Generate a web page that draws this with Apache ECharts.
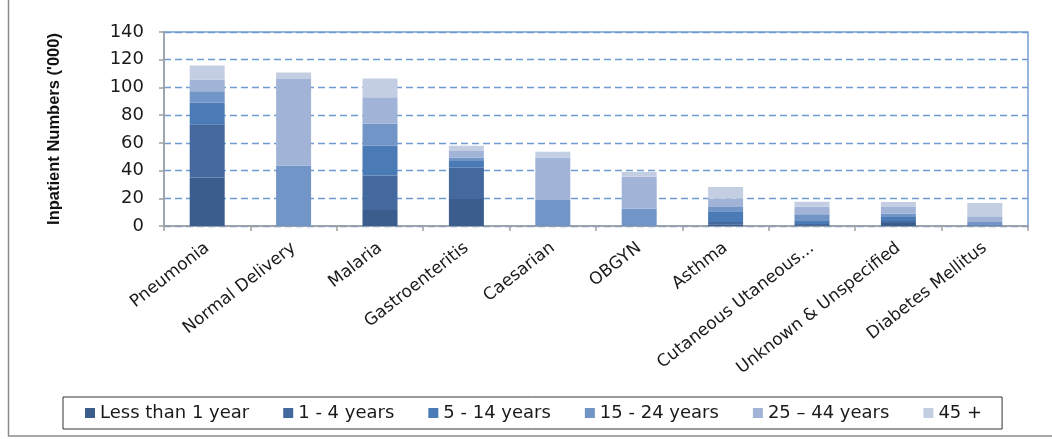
<!DOCTYPE html>
<html>
<head>
<meta charset="utf-8">
<style>
  html, body { margin: 0; padding: 0; background: #ffffff; }
  #chart { width: 1052px; height: 439px; }
</style>
<script src="https://cdn.jsdelivr.net/npm/echarts@6/dist/echarts.min.js"></script>
</head>
<body>
<div id="chart"></div>
<script>
// Inpatient numbers ('000) by diagnosis, stacked by age group
const categories = ['Pneumonia', 'Normal Delivery', 'Malaria', 'Gastroenteritis', 'Caesarian',
  'OBGYN', 'Asthma', 'Cutaneous Utaneous...', 'Unknown & Unspecified', 'Diabetes Mellitus'];

const seriesNames = ['Less than 1 year', '1 - 4 years', '5 - 14 years', '15 - 24 years', '25 \u2013 44 years', '45 +'];

const lessThan1 = [35, 0, 11.5, 19.5, 0, 0, 1.2, 0.6, 2.2, 0];
const age1to4   = [38.5, 0, 25, 22.6, 0, 0, 1.7, 0.8, 1.4, 0];
const age5to14  = [15.5, 0, 21.5, 4.8, 0, 0, 7.7, 2.2, 2.9, 0.5];
const age15to24 = [8.2, 43.5, 16, 2.4, 18.7, 12.7, 3.1, 4.8, 2.4, 2.4];
const age25to44 = [8.6, 62.5, 19, 4.8, 30.8, 22.8, 6, 5.5, 4.8, 4.1];
const age45plus = [10, 4.8, 13.5, 3.8, 4, 3.5, 8.4, 3.6, 3.6, 9.6];

const yTicks = [0, 20, 40, 60, 80, 100, 120, 140];

const seriesData = [lessThan1, age1to4, age5to14, age15to24, age25to44, age45plus];
const colors = ['#3b5d8e', '#44699f', '#4b7bb6', '#7295c7', '#a1b4d7', '#c4cee3'];

const chart = echarts.init(document.getElementById('chart'), null, { renderer: 'canvas' });

chart.setOption({
  animation: false,
  color: colors,
  graphic: [{
    type: 'rect',
    shape: { x: 8.5, y: -2, width: 1060, height: 438 },
    style: { fill: 'none', stroke: '#8c8c8c', lineWidth: 1.5 },
    silent: true
  }],
  grid: {
    left: 164, right: 24, top: 32, bottom: 213,
    show: true, borderColor: '#7aa0d0', borderWidth: 1.5, backgroundColor: 'transparent'
  },
  legend: {
    left: 63, top: 397,
    itemWidth: 10, itemHeight: 10, itemGap: 34,
    icon: 'rect',
    padding: [7, 20, 7, 22],
    borderColor: '#333333', borderWidth: 1,
    textStyle: { fontFamily: 'DejaVu Sans', fontSize: 18, color: '#1a1a1a' },
    data: seriesNames
  },
  xAxis: {
    type: 'category',
    data: categories,
    axisLine: { lineStyle: { color: '#a0a0a0', width: 1.5 } },
    axisTick: { show: true, length: 5, lineStyle: { color: '#a0a0a0', width: 1.5 } },
    axisLabel: {
      interval: 0, rotate: 38, margin: 20,
      fontFamily: 'DejaVu Sans', fontSize: 17, color: '#1a1a1a'
    }
  },
  yAxis: {
    type: 'value',
    min: yTicks[0], max: yTicks[yTicks.length - 1], interval: 20,
    name: "Inpatient Numbers ('000)",
    nameLocation: 'middle', nameGap: 101,
    nameTextStyle: { fontFamily: 'Liberation Sans', fontWeight: 'bold', fontSize: 16.5, color: '#111111' },
    axisLine: { show: true, lineStyle: { color: '#a0a0a0', width: 1.5 } },
    axisTick: { show: true, length: 5, lineStyle: { color: '#a0a0a0', width: 1.5 } },
    axisLabel: { margin: 20, fontFamily: 'DejaVu Sans', fontSize: 18, color: '#1a1a1a' },
    splitLine: { show: true, lineStyle: { color: '#6e9bd2', width: 1.3, type: [7, 4] } }
  },
  series: seriesNames.map((name, i) => ({
    name: name,
    type: 'bar',
    stack: 'total',
    barWidth: 35,
    data: seriesData[i],
    itemStyle: { color: colors[i] }
  }))
});
</script>
</body>
</html>
